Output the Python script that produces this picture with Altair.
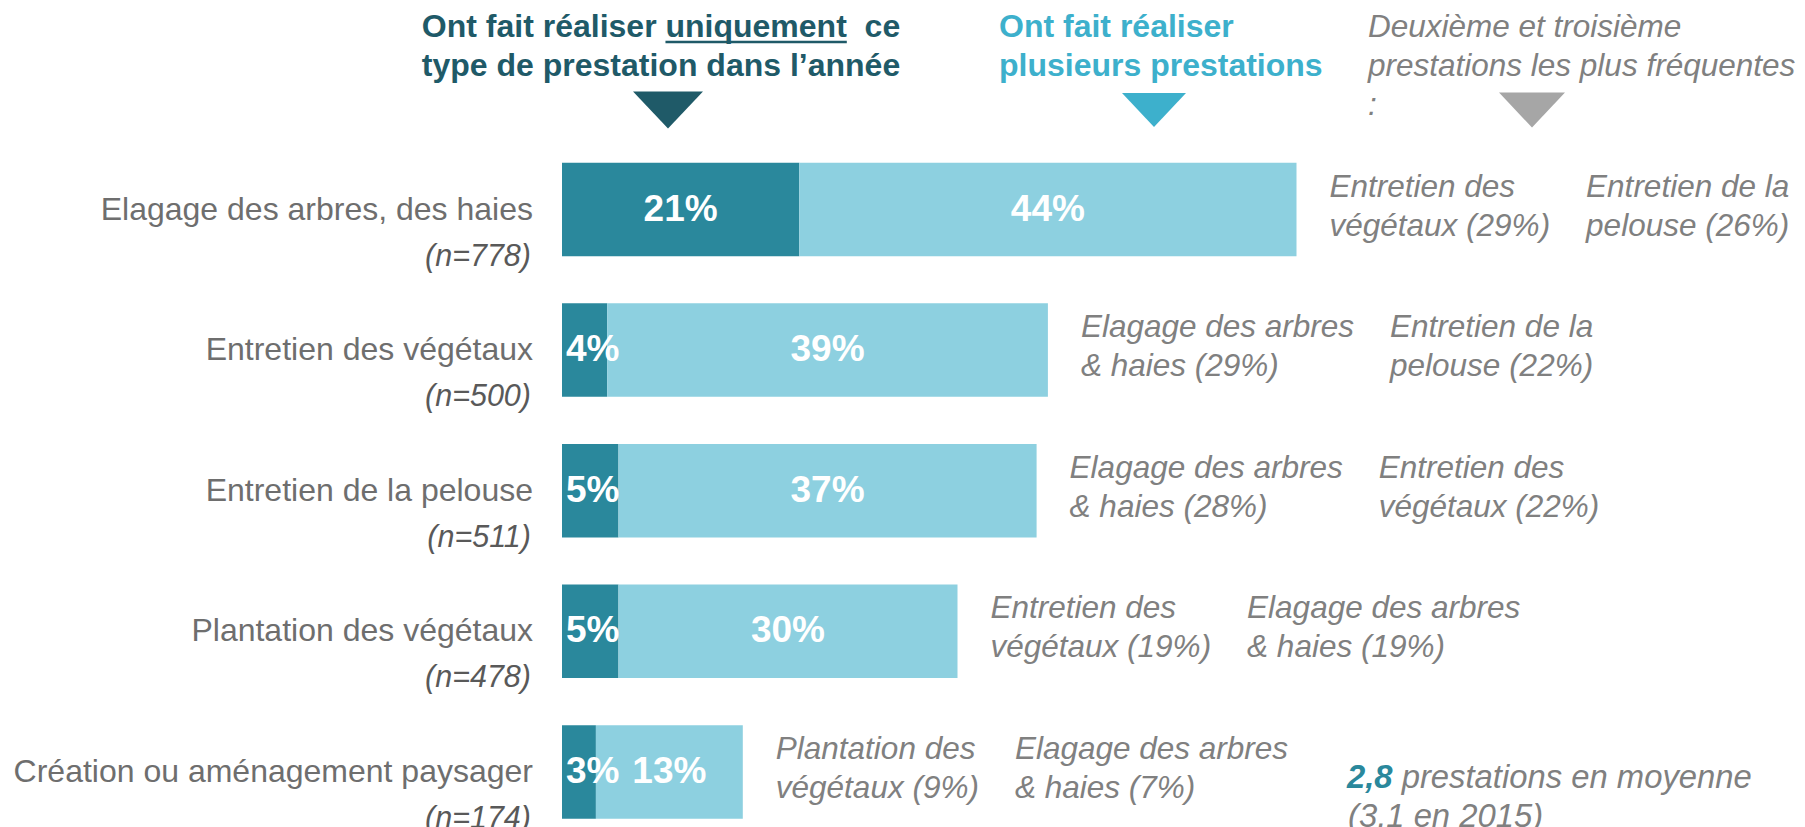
import altair as alt
import pandas as pd

# ---------------- data ----------------
categories = [
    "Elagage des arbres, des haies",
    "Entretien des végétaux",
    "Entretien de la pelouse",
    "Plantation des végétaux",
    "Création ou aménagement paysager",
]
sample_sizes = ["(n=778)", "(n=500)", "(n=511)", "(n=478)", "(n=174)"]
only_this = [21, 4, 5, 5, 3]
several = [44, 39, 37, 30, 13]
second_most = [
    "Entretien des\nvégétaux (29%)",
    "Elagage des arbres\n& haies (29%)",
    "Elagage des arbres\n& haies (28%)",
    "Entretien des\nvégétaux (19%)",
    "Plantation des\nvégétaux (9%)",
]
third_most = [
    "Entretien de la\npelouse (26%)",
    "Entretien de la\npelouse (22%)",
    "Entretien des\nvégétaux (22%)",
    "Elagage des arbres\n& haies (19%)",
    "Elagage des arbres\n& haies (7%)",
]
header_only_lines = ["Ont fait réaliser uniquement \u00a0ce", "type de prestation dans l’année"]
header_only_prefix = "Ont fait réaliser "
header_only_word = "uniquement"
header_several_lines = ["Ont fait réaliser", "plusieurs prestations"]
header_other_lines = ["Deuxième et troisième", "prestations les plus fréquentes", ":"]
mean_value = "2,8"
mean_text = "prestations en moyenne"
mean_prev = "(3,1 en 2015)"

# ---------------- layout / style ----------------
W, H = 1789, 819
K = 11.30          # px per percentage point
ZERO_PX = 554      # where 0 % sits
XMIN = -ZERO_PX / K
XMAX = XMIN + W / K
FONT = "Liberation Sans"

DARK = "#2A889C"
LIGHT = "#8DD0E0"
TITLE1 = "#1F5A68"
TITLE2 = "#3DB0CC"
GRAY_TRI = "#A6A6A6"
CAT_GRAY = "#6E6E6E"
N_GRAY = "#595959"
ANN_GRAY = "#808080"

ANN_SIZE = 31.5
MEAN_SIZE = 32.8
CAT_SIZE = 32
HEAD_SIZE = 32
VAL_SIZE = 37

REG = {" ": 278, "\u00a0": 278, "&": 667, "(": 333, ")": 333, "%": 889, ",": 278, "E": 667, "P": 667,
       "a": 556, "b": 556, "d": 556, "e": 556, "é": 556, "g": 556, "h": 556, "i": 222,
       "l": 222, "n": 556, "o": 556, "r": 333, "s": 500, "t": 278, "u": 556, "v": 500,
       "x": 500, "p": 556, "c": 500, "m": 833, "f": 278, "q": 556, "y": 500}
BOLD = {" ": 278, "\u00a0": 278, "O": 778, "n": 611, "t": 333, "f": 333, "a": 556, "i": 278, "r": 389,
        "é": 556, "l": 278, "s": 556, "e": 556, "u": 611, "q": 611, "m": 889, "c": 556,
        ",": 278, "%": 889}


def tw(s, size, table=REG):
    return max(sum(table.get(ch, 556) for ch in line) for line in s.split("\n")) * size / 1000


x_scale = alt.Scale(domain=[XMIN, XMAX], nice=False, zero=False)
y_scale = alt.Scale(domain=categories, range=[131.2, 834.2], paddingInner=0.335, paddingOuter=0.1675)
Y = alt.Y("cat:N", sort=categories, scale=y_scale, axis=None)

rows = []
for c, a, b in zip(categories, only_this, several):
    lab_a = f"{a}%"
    # keep the white label inside the chart: never start left of the bar
    mid_a = max(a / 2, (tw(lab_a, VAL_SIZE, BOLD) / 2 + 4) / K)
    rows.append(dict(cat=c, seg="only", x0=0, x1=a, mid=mid_a, label=lab_a))
    rows.append(dict(cat=c, seg="several", x0=a, x1=a + b, mid=a + b / 2, label=f"{b}%"))
bar_df = pd.DataFrame(rows)

ANN_DX = 31
GAP = 36
cat_rows = []
for c, n, a, b, s2, s3 in zip(categories, sample_sizes, only_this, several, second_most, third_most):
    total = a + b
    cat_rows.append(dict(cat=c, n=n, base=0, total=total, second=s2, third=s3,
                         colb=total + (tw(s2, ANN_SIZE) + GAP) / K))
cat_df = pd.DataFrame(cat_rows)

bars = alt.Chart(bar_df).mark_bar().encode(
    x=alt.X("x0:Q", scale=x_scale, axis=None),
    x2="x1:Q",
    y=Y,
    color=alt.Color("seg:N", scale=alt.Scale(domain=["only", "several"], range=[DARK, LIGHT]), legend=None),
)

values = alt.Chart(bar_df).mark_text(
    font=FONT, fontSize=VAL_SIZE, fontWeight="bold", color="white", align="center", baseline="middle"
).encode(x=alt.X("mid:Q", scale=x_scale, axis=None), y=Y, text="label:N")

cat_labels = alt.Chart(cat_df).mark_text(
    font=FONT, fontSize=CAT_SIZE, color=CAT_GRAY, align="right", baseline="middle", dx=-29
).encode(x=alt.X("base:Q", scale=x_scale, axis=None), y=Y, text="cat:N")

n_labels = alt.Chart(cat_df).mark_text(
    font=FONT, fontSize=30.5, fontStyle="italic", color=N_GRAY, align="right", baseline="middle",
    dx=-31, dy=47
).encode(x=alt.X("base:Q", scale=x_scale, axis=None), y=Y, text="n:N")

ANN_DY = -22
ann_a = alt.Chart(cat_df).mark_text(
    font=FONT, fontSize=ANN_SIZE, fontStyle="italic", color=ANN_GRAY, align="left",
    baseline="middle", lineBreak="\n", lineHeight=39, dx=ANN_DX + 2, dy=ANN_DY
).encode(x=alt.X("total:Q", scale=x_scale, axis=None), y=Y, text="second:N")

ann_b = alt.Chart(cat_df).mark_text(
    font=FONT, fontSize=ANN_SIZE, fontStyle="italic", color=ANN_GRAY, align="left",
    baseline="middle", lineBreak="\n", lineHeight=39, dx=ANN_DX + 2, dy=ANN_DY
).encode(x=alt.X("colb:Q", scale=x_scale, axis=None), y=Y, text="third:N")

one = alt.Data(values=[{}])

H1_CX = 653
H_BASE = 29
LH = 39
head1 = alt.Chart(one).mark_text(
    font=FONT, fontSize=HEAD_SIZE, fontWeight="bold", color=TITLE1, align="center",
    baseline="alphabetic", lineBreak="\n", lineHeight=LH
).encode(x=alt.value(H1_CX), y=alt.value(H_BASE), text=alt.value("\n".join(header_only_lines)))

line_w = tw(header_only_lines[0], HEAD_SIZE, BOLD)
u_start = H1_CX - line_w / 2 + tw(header_only_prefix, HEAD_SIZE, BOLD)
u_end = u_start + tw(header_only_word, HEAD_SIZE, BOLD)
underline = alt.Chart(one).mark_rule(color=TITLE1, strokeWidth=2.5).encode(
    x=alt.value(u_start), x2=alt.value(u_end), y=alt.value(H_BASE + 5)
)

head2 = alt.Chart(one).mark_text(
    font=FONT, fontSize=HEAD_SIZE, fontWeight="bold", color=TITLE2, align="left",
    baseline="alphabetic", lineBreak="\n", lineHeight=LH
).encode(x=alt.value(991), y=alt.value(H_BASE), text=alt.value("\n".join(header_several_lines)))

head3 = alt.Chart(one).mark_text(
    font=FONT, fontSize=ANN_SIZE, fontStyle="italic", color=ANN_GRAY, align="left",
    baseline="alphabetic", lineBreak="\n", lineHeight=LH
).encode(x=alt.value(1360), y=alt.value(H_BASE), text=alt.value("\n".join(header_other_lines)))

TRI = "M-1,-0.53L1,-0.53L0,0.53Z"


def tri(xc, col, w):
    return alt.Chart(one).mark_point(shape=TRI, size=w * w, filled=True, color=col, opacity=1,
                                     strokeWidth=0).encode(x=alt.value(xc), y=alt.value(102))


t1 = tri(660, TITLE1, 70)
t2 = tri(1146, TITLE2, 64)
t3 = tri(1524, GRAY_TRI, 66)

MX = 1339
mean1 = alt.Chart(one).mark_text(
    font=FONT, fontSize=MEAN_SIZE, fontStyle="italic", fontWeight="bold", color=DARK, align="left",
    baseline="middle"
).encode(x=alt.value(MX), y=alt.value(770), text=alt.value(mean_value))
mean2 = alt.Chart(one).mark_text(
    font=FONT, fontSize=MEAN_SIZE, fontStyle="italic", color=ANN_GRAY, align="left", baseline="middle"
).encode(x=alt.value(MX + tw(mean_value + " ", MEAN_SIZE, BOLD)), y=alt.value(770), text=alt.value(mean_text))
mean3 = alt.Chart(one).mark_text(
    font=FONT, fontSize=MEAN_SIZE, fontStyle="italic", color=ANN_GRAY, align="left", baseline="middle"
).encode(x=alt.value(MX + 1), y=alt.value(809), text=alt.value(mean_prev))

chart = alt.layer(
    bars, values, cat_labels, n_labels, ann_a, ann_b,
    head1, underline, head2, head3, t1, t2, t3, mean1, mean2, mean3
).properties(
    width=W, height=H, padding=0, autosize=alt.AutoSizeParams(type="none"), background="white"
).configure_view(stroke=None)

chart.save("out.html", embed_options={"renderer": "svg", "actions": False})
